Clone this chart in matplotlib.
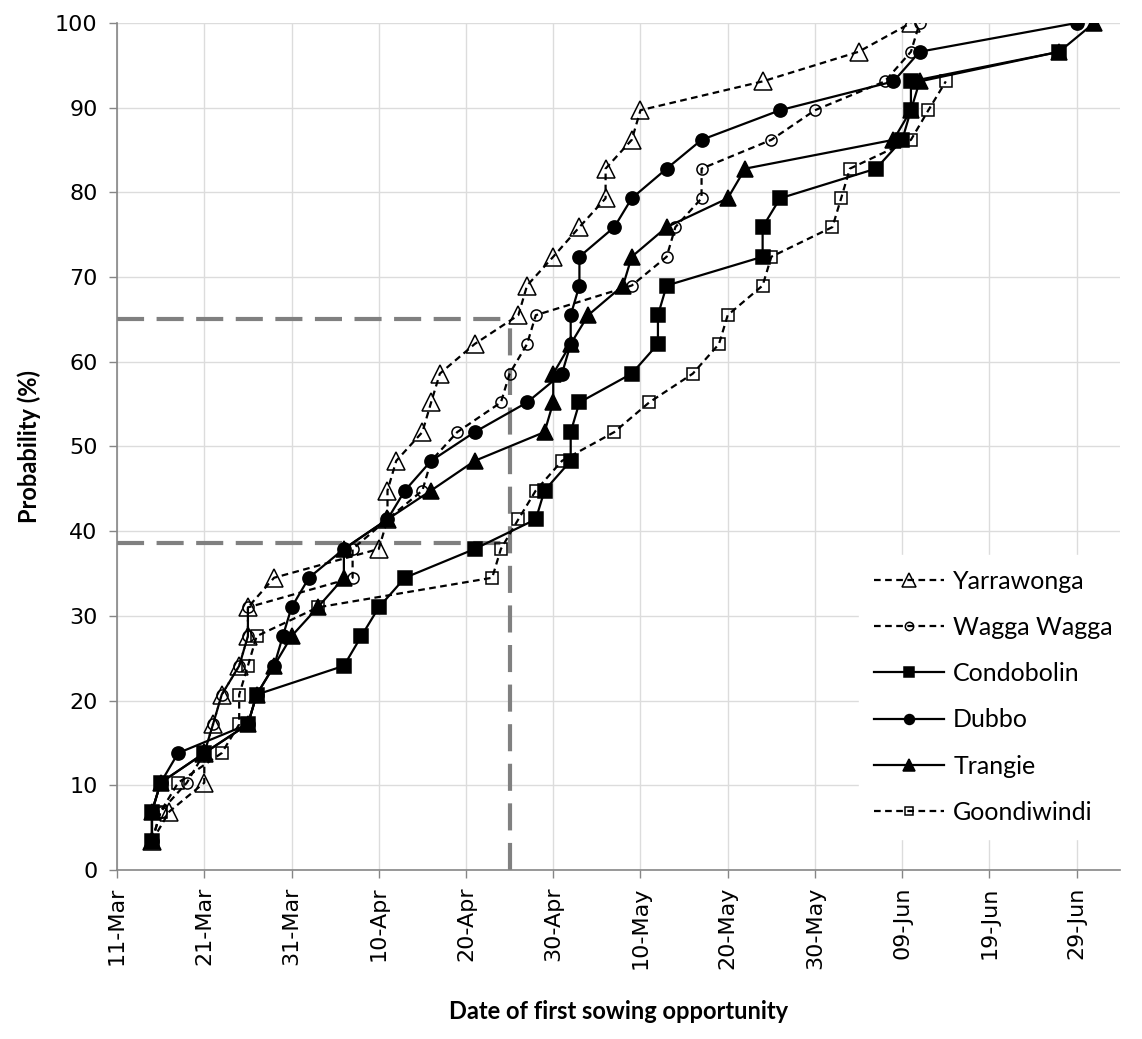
import matplotlib
matplotlib.use("Agg")
import matplotlib.pyplot as plt
import pandas as pd

# ---------------- data ----------------
prob = [3.4, 6.9, 10.3, 13.8, 17.2, 20.7, 24.1, 27.6, 31.0, 34.5, 37.9, 41.4,
        44.8, 48.3, 51.7, 55.2, 58.6, 62.1, 65.5, 69.0, 72.4, 75.9, 79.3, 82.8,
        86.2, 89.7, 93.1, 96.6, 100.0]

yarrawonga = ["15-Mar", "17-Mar", "21-Mar", "21-Mar", "22-Mar", "23-Mar", "25-Mar",
              "26-Mar", "26-Mar", "29-Mar", "10-Apr", "11-Apr", "11-Apr", "12-Apr",
              "15-Apr", "16-Apr", "17-Apr", "21-Apr", "26-Apr", "27-Apr", "30-Apr",
              "03-May", "06-May", "06-May", "09-May", "10-May", "24-May", "04-Jun",
              "10-Jun"]
wagga = ["15-Mar", "16-Mar", "19-Mar", "21-Mar", "22-Mar", "23-Mar", "25-Mar",
         "26-Mar", "26-Mar", "07-Apr", "07-Apr", "11-Apr", "15-Apr", "16-Apr",
         "19-Apr", "24-Apr", "25-Apr", "27-Apr", "28-Apr", "09-May", "13-May",
         "14-May", "17-May", "17-May", "25-May", "30-May", "07-Jun", "10-Jun",
         "11-Jun"]
condobolin = ["15-Mar", "15-Mar", "16-Mar", "21-Mar", "26-Mar", "27-Mar", "06-Apr",
              "08-Apr", "10-Apr", "13-Apr", "21-Apr", "28-Apr", "29-Apr", "02-May",
              "02-May", "03-May", "09-May", "12-May", "12-May", "13-May", "24-May",
              "24-May", "26-May", "06-Jun", "09-Jun", "10-Jun", "10-Jun", "27-Jun"]
dubbo = ["15-Mar", "15-Mar", "16-Mar", "18-Mar", "26-Mar", "27-Mar", "29-Mar",
         "30-Mar", "31-Mar", "02-Apr", "06-Apr", "11-Apr", "13-Apr", "16-Apr",
         "21-Apr", "27-Apr", "01-May", "02-May", "02-May", "03-May", "03-May",
         "07-May", "09-May", "13-May", "17-May", "26-May", "08-Jun", "11-Jun",
         "29-Jun"]
trangie = ["15-Mar", "15-Mar", "16-Mar", "21-Mar", "26-Mar", "27-Mar", "29-Mar",
           "31-Mar", "03-Apr", "06-Apr", "06-Apr", "11-Apr", "16-Apr", "21-Apr",
           "29-Apr", "30-Apr", "30-Apr", "02-May", "04-May", "08-May", "09-May",
           "13-May", "20-May", "22-May", "08-Jun", "10-Jun", "11-Jun", "27-Jun",
           "01-Jul"]
goondiwindi = ["15-Mar", "16-Mar", "18-Mar", "23-Mar", "25-Mar", "25-Mar", "26-Mar",
               "27-Mar", "03-Apr", "23-Apr", "24-Apr", "26-Apr", "28-Apr", "01-May",
               "07-May", "11-May", "16-May", "19-May", "20-May", "24-May", "25-May",
               "01-Jun", "02-Jun", "03-Jun", "10-Jun", "12-Jun", "14-Jun"]

series_names = ["Yarrawonga", "Wagga Wagga", "Condobolin", "Dubbo", "Trangie",
                "Goondiwindi"]
series_dates = [yarrawonga, wagga, condobolin, dubbo, trangie, goondiwindi]

tick_labels = ["11-Mar", "21-Mar", "31-Mar", "10-Apr", "20-Apr", "30-Apr",
               "10-May", "20-May", "30-May", "09-Jun", "19-Jun", "29-Jun"]
x_min_label, x_max_label = "11-Mar", "04-Jul"

ref_date = "25-Apr"
ref_probs = [38.6, 65.0]

YEAR = "2001"


def to_dt(labels):
    return pd.to_datetime([f"{s}-{YEAR}" for s in labels], format="%d-%b-%Y")


# ---------------- styles ----------------
styles = {
    "Yarrawonga": dict(marker="^", ms=12.5, mfc="none", ls="--"),
    "Wagga Wagga": dict(marker="o", ms=8, mfc="none", ls="--"),
    "Condobolin": dict(marker="s", ms=9.5, mfc="black", ls="-"),
    "Dubbo": dict(marker="o", ms=9.5, mfc="black", ls="-"),
    "Trangie": dict(marker="^", ms=11, mfc="black", ls="-"),
    "Goondiwindi": dict(marker="s", ms=8, mfc="none", ls="--"),
}

fig = plt.figure(figsize=(11.42, 10.39), dpi=100)
ax = fig.add_axes([0.1025, 0.1627, 0.8785, 0.8152])

grid_c = "#dcdcdc"
axis_c = "#868686"

for name, dates in zip(series_names, series_dates):
    st = styles[name]
    x = to_dt(dates)
    y = prob[:len(dates)]
    line, = ax.plot(x, y, color="black", lw=1.6, ls=st["ls"],
                    marker=st["marker"], ms=st["ms"], mfc=st["mfc"],
                    mec="black", mew=1.1, label=name, zorder=3)
    if st["ls"] == "--":
        line.set_dashes((3, 2))

# reference lines
xr = to_dt([ref_date])[0]
x0 = to_dt([x_min_label])[0]
ref_kw = dict(color="#808080", lw=3, dashes=(6.5, 3), zorder=2)
for p in ref_probs:
    ax.plot([x0, xr], [p, p], **ref_kw)
ax.plot([xr, xr], [0, max(ref_probs)], **ref_kw)

# axes
ax.set_xlim(to_dt([x_min_label])[0], to_dt([x_max_label])[0])
ax.set_ylim(0, 100)
ax.set_yticks(range(0, 101, 10))
ticks = to_dt(tick_labels)
ax.set_xticks(ticks)
ax.set_xticklabels(tick_labels, rotation=90, fontsize=16, family="DejaVu Sans")
ax.tick_params(axis="y", labelsize=16, colors=axis_c, labelcolor="black",
               length=6, width=1, direction="out", pad=8)
ax.tick_params(axis="x", colors=axis_c, labelcolor="black", length=6, width=1,
               direction="out", pad=6)
for lab in ax.get_yticklabels():
    lab.set_family("DejaVu Sans")

ax.grid(True, color=grid_c, lw=1, zorder=0)
ax.set_axisbelow(True)
for s in ["top", "right"]:
    ax.spines[s].set_visible(False)
for s in ["left", "bottom"]:
    ax.spines[s].set_color(axis_c)
    ax.spines[s].set_linewidth(1.2)

ax.set_ylabel("Probability (%)", fontsize=17, fontweight="bold", family="Lato",
              labelpad=10)
ax.set_xlabel("Date of first sowing opportunity", fontsize=17, fontweight="bold",
              family="Lato", labelpad=22)

leg = ax.legend(loc="lower right", bbox_to_anchor=(1.02, 0.022), frameon=True,
                facecolor="white", edgecolor="white", framealpha=1,
                prop={"family": "Lato", "size": 18}, handlelength=2.8,
                labelspacing=0.93, borderpad=0.6, handletextpad=0.35,
                markerscale=0.75)

fig.savefig("out.png", dpi=100)
